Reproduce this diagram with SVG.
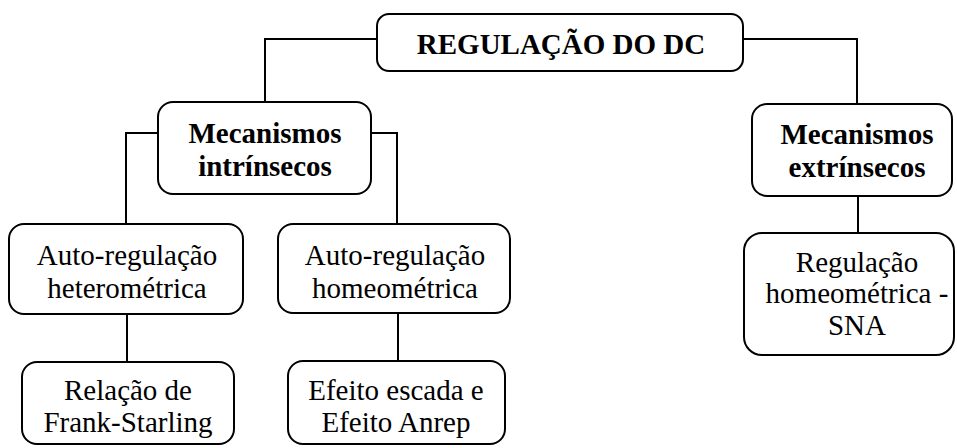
<svg xmlns="http://www.w3.org/2000/svg" width="957" height="448" viewBox="0 0 957 448">
<style>
.box{fill:#fff;stroke:#000;stroke-width:2}
.ln{fill:none;stroke:#000;stroke-width:2}
text{font-family:"Liberation Serif","Times New Roman",serif;font-size:29px;fill:#000;text-anchor:middle}
.b{font-weight:bold}
</style>
<rect width="957" height="448" fill="#fff"/>
<g id="connectors">
<path class="ln" d="M377 39H265V102"/>
<path class="ln" d="M743 39H857V104"/>
<path class="ln" d="M158 133H126V224"/>
<path class="ln" d="M371 133H397V224"/>
<path class="ln" d="M127 314V362"/>
<path class="ln" d="M398 313V361"/>
<path class="ln" d="M858 196V233"/>
</g>
<g id="root">
<rect class="box" x="377" y="14" width="366" height="57" rx="12"/>
<text class="b" x="561" y="54">REGULAÇÃO DO DC</text>
</g>
<g id="intrinsecos">
<rect class="box" x="158" y="102" width="213" height="92" rx="15"/>
<text class="b" x="265" y="143">Mecanismos</text>
<text class="b" x="265" y="176">intrínsecos</text>
</g>
<g id="extrinsecos">
<rect class="box" x="752" y="104" width="200" height="92" rx="15"/>
<text class="b" x="857" y="144">Mecanismos</text>
<text class="b" x="857" y="177">extrínsecos</text>
</g>
<g id="heterometrica">
<rect class="box" x="9" y="224" width="234" height="90" rx="15"/>
<text x="127" y="265">Auto-regulação</text>
<text x="127" y="298">heterométrica</text>
</g>
<g id="homeometrica">
<rect class="box" x="278" y="224" width="232" height="89" rx="15"/>
<text x="395" y="265">Auto-regulação</text>
<text x="395" y="298">homeométrica</text>
</g>
<g id="frank">
<rect class="box" x="22" y="362" width="212" height="82" rx="15"/>
<text x="128" y="400">Relação de</text>
<text x="128" y="432">Frank-Starling</text>
</g>
<g id="anrep">
<rect class="box" x="288" y="361" width="217" height="83" rx="15"/>
<text x="396" y="400">Efeito escada e</text>
<text x="396" y="432">Efeito Anrep</text>
</g>
<g id="sna">
<rect class="box" x="744" y="233" width="210" height="122" rx="18"/>
<text x="857" y="272">Regulação</text>
<text x="857" y="303">homeométrica -</text>
<text x="857" y="335">SNA</text>
</g>
</svg>
